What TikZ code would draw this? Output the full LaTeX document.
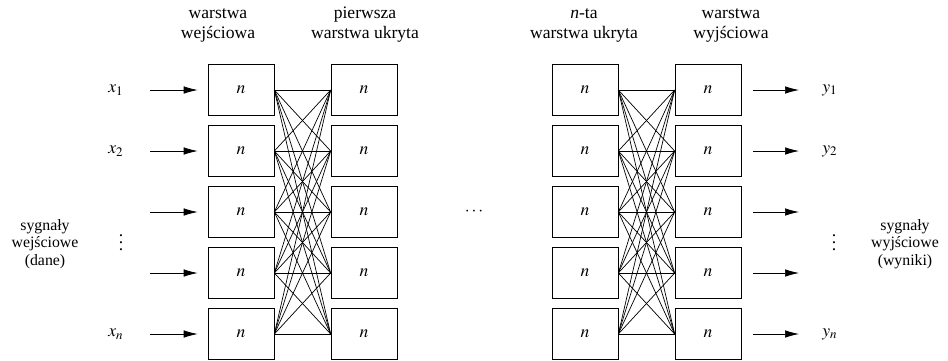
\documentclass[tikz,border=0pt]{standalone}
\usepackage{mathptmx}
\usepackage{fontspec}
\setmainfont{Liberation Serif}
\usetikzlibrary{arrows.meta}

\begin{document}
\begin{tikzpicture}[x=0.02cm,y=-0.02cm,
    neuron/.style={draw,minimum width=1.32cm,minimum height=1.02cm,inner sep=0pt},
    sig/.style={-{Latex[length=2.8mm,width=1.5mm]}},
    head/.style={align=center,font=\fontsize{10}{11.4}\selectfont},
    side/.style={align=center,font=\fontsize{9}{10}\selectfont}]
  \useasboundingbox (0,0) rectangle (948,360);
  % the four layers of boxes
  \foreach \i/\y in {1/90,2/151,3/212,4/273,5/334} {
    \node[neuron] (we\i) at (241,\y) {$n$};
    \node[neuron] (ha\i) at (364,\y) {$n$};
    \node[neuron] (hn\i) at (585,\y) {$n$};
    \node[neuron] (wy\i) at (708,\y) {$n$};
    \coordinate (in\i) at (150,\y);
    \coordinate (out\i) at (799,\y);
    \draw[sig,shorten >=0.2cm] (in\i) -- (we\i.west);
    \draw[sig,shorten <=0.24cm] (wy\i.east) -- (out\i);
  }
  % full connections between neighbouring layers
  \foreach \i in {1,...,5}
    \foreach \j in {1,...,5} {
      \draw (we\i.east) -- (ha\j.west);
      \draw (hn\i.east) -- (wy\j.west);
    }
  % headers
  \node[head] (h1) at (218,25) {warstwa\\wejściowa};
  \node[head] (h2) at (365,25) {pierwsza\\warstwa ukryta};
  \node[head] (h3) at (584,25) {\textit{n}-ta\\warstwa ukryta};
  \node[head] (h4) at (731,25) {warstwa\\wyjściowa};
  % signals
  \node (x1) at (116,90) {$x_1$};
  \node (x2) at (116,151) {$x_2$};
  \node (xn) at (116,334) {$x_n$};
  \node (y1) at (830,90) {$y_1$};
  \node (y2) at (830,151) {$y_2$};
  \node (yn) at (830,334) {$y_n$};
  \node[inner sep=0pt] (vl) at (121,237) {$\vdots$};
  \node[inner sep=0pt] (vr) at (834,237) {$\vdots$};
  \node (mid) at (474,212) {$\cdots$};
  \node[side] (lin) at (45,244) {sygnały\\wejściowe\\(dane)};
  \node[side] (lout) at (905,244) {sygnały\\wyjściowe\\(wyniki)};
\end{tikzpicture}
\end{document}
